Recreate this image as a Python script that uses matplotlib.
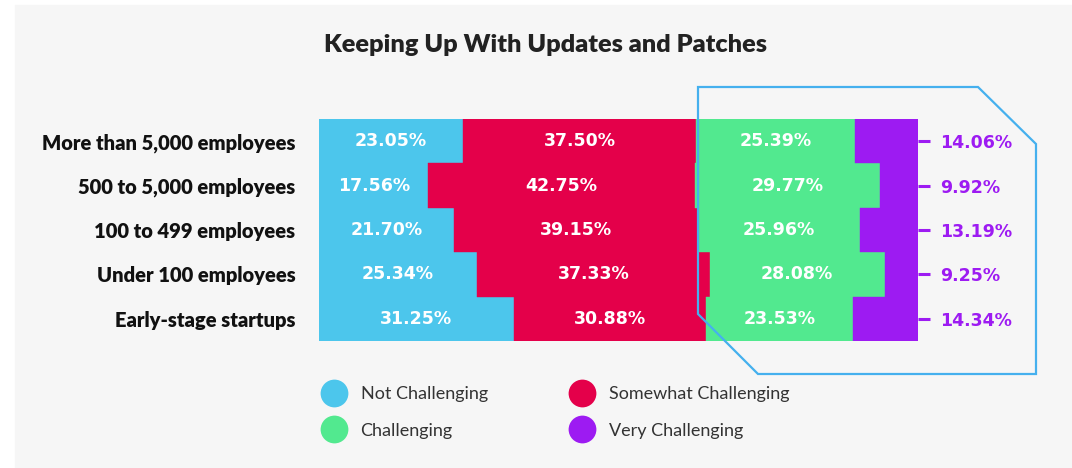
import matplotlib
matplotlib.use('Agg')
import matplotlib.pyplot as plt
from matplotlib.patches import Rectangle, Polygon
from matplotlib.lines import Line2D

groups = ['More than 5,000 employees', '500 to 5,000 employees', '100 to 499 employees',
          'Under 100 employees', 'Early-stage startups']
not_chal = [23.05, 17.56, 21.70, 25.34, 31.25]
somewhat = [37.50, 42.75, 39.15, 37.33, 30.88]
chal = [25.39, 29.77, 25.96, 28.08, 23.53]
very = [14.06, 9.92, 13.19, 9.25, 14.34]

series = ['Not Challenging', 'Somewhat Challenging', 'Challenging', 'Very Challenging']
colors = ['#4cc6ec', '#e4004a', '#52e98f', '#9d1bf2']

W, H = 1072, 468
fig = plt.figure(figsize=(W / 100, H / 100), dpi=100)
fig.patches.append(Rectangle((15 / W, 0), 1, 1 - 5 / H, transform=fig.transFigure,
                             color='#f6f6f6', zorder=-1))

ax = fig.add_axes([319 / W, 1 - 341 / H, 599 / W, 222 / H])
ax.set_facecolor('none')
y = list(range(len(groups)))
left = [0] * len(groups)
bars = []
for vals, c in zip([not_chal, somewhat, chal, very], colors):
    b = ax.barh(y, vals, left=left, height=1.0, color=c, edgecolor=c, linewidth=0.3)
    bars.append(b)
    left = [l + v for l, v in zip(left, vals)]

# white labels inside the first three segments
for b, vals in zip(bars[:3], [not_chal, somewhat, chal]):
    ax.bar_label(b, labels=[f'{v:.2f}%' for v in vals], label_type='center',
                 color='white', fontsize=12.5, fontweight='bold', family='DejaVu Sans')

# the purple segment runs past the visible area, as in the original
ax.set_xlim(0, 96.1)
ax.set_ylim(4.5, -0.5)
ax.set_xticks([])
ax.set_yticks(y, groups)
ax.tick_params(axis='y', length=0, pad=17)
for t in ax.get_yticklabels():
    t.set_family('Lato')
    t.set_weight('heavy')
    t.set_fontsize(14.5)
    t.set_color('#111111')
for s in ax.spines.values():
    s.set_visible(False)

ax2 = ax.twinx()
ax2.set_ylim(ax.get_ylim())
ax2.set_yticks(y, [f'{v:.2f}%' for v in very])
ax2.tick_params(axis='y', length=8.6, width=2.2, color=colors[3], labelcolor=colors[3], pad=7)
for t in ax2.get_yticklabels():
    t.set_family('DejaVu Sans')
    t.set_weight('bold')
    t.set_fontsize(12.5)
for s in ax2.spines.values():
    s.set_visible(False)

fig.text(545 / W, 1 - 45 / H, 'Keeping Up With Updates and Patches', ha='center', va='center',
         fontsize=18.2, fontweight='heavy', family='Lato', color='#222222')

order = [0, 2, 1, 3]
handles = [Line2D([], [], marker='o', ls='', markersize=20, markerfacecolor=colors[i],
                  markeredgewidth=0) for i in order]
fig.legend(handles, [series[i] for i in order], ncol=2, loc='upper left',
           bbox_to_anchor=(319 / W, 1 - 386 / H), frameon=False,
           prop={'family': 'Lato', 'size': 13}, labelcolor='#333333',
           handlelength=1.7, handletextpad=0.6, columnspacing=4.4, labelspacing=1.15,
           borderpad=0, borderaxespad=0)

# highlight outline around the challenging side
outline = [(698, 87), (978, 87), (1036, 144), (1036, 374), (758, 374), (698, 314)]
fig.add_artist(Polygon([(px / W, 1 - py / H) for px, py in outline], closed=True, fill=False,
                       edgecolor='#45b0ee', linewidth=1.6, transform=fig.transFigure, zorder=5))

fig.savefig('out.png', dpi=100)
